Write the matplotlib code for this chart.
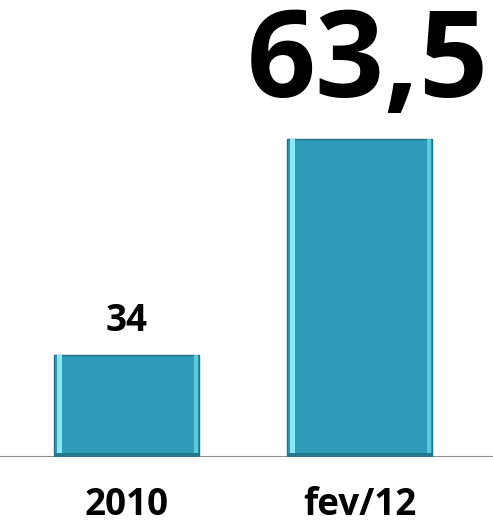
import matplotlib.pyplot as plt

categories = ['2010', 'fev/12']
values = [34, 63.5]
value_labels = ['34', '63,5']

plt.rcParams['font.family'] = ['Open Sans', 'DejaVu Sans']

fig = plt.figure(figsize=(4.93, 5.26), dpi=100)
ax = fig.add_axes([0, 69 / 526, 1, 457 / 526])

x = range(len(categories))
w = 0.62
bars = ax.bar(x, [v - 20.1 for v in values], bottom=20.1, width=w,
              color='#2E9BB8', edgecolor='#1F7186', linewidth=1.0, zorder=2)

# bevel look: light strip on the left, lighter strip right, darker bottom
for b in bars:
    bx, by = b.get_x(), b.get_y()
    bw, bh = b.get_width(), b.get_height()
    ax.bar(bx + bw * 0.02, bh, bottom=by, width=bw * 0.035, align='edge',
           color='#8BE6F5', linewidth=0, zorder=3)
    ax.bar(bx + bw * 0.965, bh, bottom=by, width=bw * 0.03, align='edge',
           color='#5CC8DC', linewidth=0, zorder=3)
    ax.bar(bx, 0.5, bottom=by, width=bw, align='edge',
           color='#237A8F', linewidth=0, zorder=3)

ax.set_xlim(-0.543, 1.573)
ax.set_ylim(20.1, 82.4)
ax.axhline(20.1, color='#8C8C8C', linewidth=1.5, zorder=1)

ax.annotate(value_labels[0], (0, values[0]), xytext=(0, 17), textcoords='offset points',
            ha='center', va='baseline', fontsize=26.5, fontweight='bold')
ax.annotate(value_labels[1], (1, values[1]), xytext=(6, 30), textcoords='offset points',
            ha='center', va='baseline', fontsize=87, fontweight='bold')

ax.set_xticks(list(x))
ax.set_xticklabels(categories, fontsize=26.5, fontweight='bold')
ax.tick_params(axis='x', length=0, pad=21)
ax.set_yticks([])
for s in ax.spines.values():
    s.set_visible(False)

fig.savefig('out.png', dpi=100)
